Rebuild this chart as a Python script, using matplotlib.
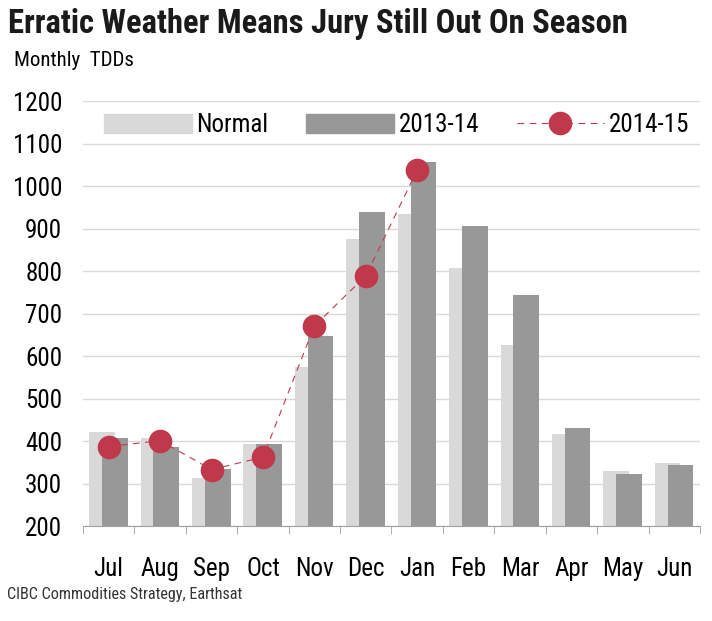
import numpy as np
import matplotlib
matplotlib.use("Agg")
import matplotlib.pyplot as plt
from matplotlib.lines import Line2D
from matplotlib.patches import Patch

plt.rcParams['font.family'] = ['Roboto Condensed', 'DejaVu Sans']
plt.rcParams['font.stretch'] = 'condensed'

months = ["Jul", "Aug", "Sep", "Oct", "Nov", "Dec", "Jan", "Feb", "Mar", "Apr", "May", "Jun"]
normal = [421, 407, 314, 393, 575, 876, 935, 807, 626, 417, 329, 348]
season_13_14 = [407, 387, 335, 393, 647, 939, 1057, 906, 744, 431, 322, 343]
season_14_15 = [387, 401, 333, 362, 671, 789, 1038]

c_normal = '#D9D9D9'
c_1314 = '#989898'
c_red = '#C0394B'

fig = plt.figure(figsize=(7.12, 6.21), dpi=100)
ax = fig.add_axes([83/712, 1 - 526/621, 617/712, (526 - 101.3)/621])

x = np.arange(len(months))
ax.bar(x - 0.13, np.array(normal) - 200, bottom=200, width=0.5, color=c_normal, zorder=2)
ax.bar(x + 0.12, np.array(season_13_14) - 200, bottom=200, width=0.5, color=c_1314, zorder=3)
ax.plot(np.arange(len(season_14_15)), season_14_15, color=c_red, lw=0.8,
        dashes=(6, 5), marker='o', markersize=17, markeredgewidth=0, zorder=4)

ax.set_ylim(200, 1200)
ax.set_xlim(-0.5, 11.5)
ax.set_yticks(range(200, 1201, 100))
ax.yaxis.grid(True, color='#D9D9D9', lw=1)
ax.set_axisbelow(True)
ax.tick_params(axis='y', length=0, pad=15, labelsize=18)
ax.set_xticks(x)
ax.set_xticklabels(months)
ax.set_xticks(np.arange(-0.5, 12, 1), minor=True)
ax.tick_params(axis='x', which='major', length=0, pad=22, labelsize=18)
ax.tick_params(axis='x', which='minor', length=6, color='#A0A0A0', direction='out')
for s in ['top', 'right', 'left']:
    ax.spines[s].set_visible(False)
ax.spines['bottom'].set_color('#A0A0A0')

handles = [Patch(color=c_normal), Patch(color=c_1314),
           Line2D([], [], color=c_red, lw=0.8, dashes=(6, 5), marker='o',
                  markersize=17, markeredgewidth=0)]
ax.legend(handles, ["Normal", "2013-14", "2014-15"], ncol=3, frameon=False,
          loc='center left', bbox_to_anchor=(21/617, 0.944), fontsize=18,
          borderaxespad=0, borderpad=0,
          handlelength=3.5, handletextpad=0.2, columnspacing=1.5, handleheight=0.75)

fig.text(8/712, 1 - 24/621, "Erratic Weather Means Jury Still Out On Season",
         fontsize=23.5, fontweight='bold', va='center', color='#1a1a1a')
fig.text(14/712, 1 - 60/621, "Monthly  TDDs", fontsize=15, va='center')
fig.text(7/712, 1 - 594/621, "CIBC Commodities Strategy, Earthsat", fontsize=11.6,
         va='center', color='#333333')

fig.savefig("out.png", dpi=100)
